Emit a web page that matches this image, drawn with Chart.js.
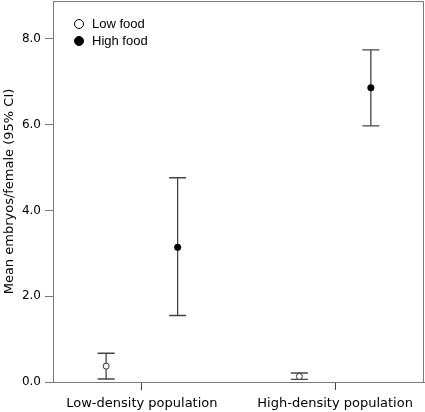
<!DOCTYPE html>
<html><head><meta charset="utf-8">
<script src="https://cdn.jsdelivr.net/npm/chart.js@4/dist/chart.umd.min.js"></script>
<style>
html,body{margin:0;padding:0;background:#fff;}
#wrap{position:relative;width:425px;height:412px;}
#legend{position:absolute;left:0;top:0;font-family:'Liberation Sans',Arial,sans-serif;font-size:13px;color:#000;}
.item{position:absolute;display:flex;align-items:center;height:16px;white-space:nowrap;}
.dot{width:10px;height:10px;border-radius:50%;box-sizing:border-box;border:1.4px solid #000;margin-right:8px;}
</style></head><body>
<div id="wrap"><canvas id="c" width="425" height="412"></canvas><div id="legend"></div></div>
<script>
// ---- data ----
const categories = ['Low-density population', 'High-density population'];
const seriesNames = ['Low food', 'High food'];
const lowFoodMean  = [0.37, 0.13];
const lowFoodLower = [0.07, 0.06];
const lowFoodUpper = [0.67, 0.21];
const highFoodMean  = [3.14, 6.86];
const highFoodLower = [1.55, 5.97];
const highFoodUpper = [4.76, 7.74];
const yTickValues = [0, 2, 4, 6, 8];
const yTickLabels = ['0.0', '2.0', '4.0', '6.0', '8.0'];
const yTitle = 'Mean embryos/female (95% CI)';

// ---- styling / layout ----
const OFFSET = 0.185;
const CAP = 8.5;
const AXIS = '#7a7a7a';

function build(mean, lo, hi, off) {
  return categories.map((c, i) => ({ x: i + off, y: mean[i], lo: lo[i], hi: hi[i] }));
}

const errorBars = {
  id: 'errorBars',
  beforeDatasetsDraw(chart) {
    const { ctx, chartArea, scales: { x, y } } = chart;
    ctx.save();
    // frame top/right
    ctx.strokeStyle = AXIS; ctx.lineWidth = 1;
    ctx.beginPath();
    ctx.moveTo(chartArea.left, chartArea.top + 0.5);
    ctx.lineTo(chartArea.right - 0.5, chartArea.top + 0.5);
    ctx.lineTo(chartArea.right - 0.5, chartArea.bottom);
    ctx.stroke();
    ctx.strokeStyle = '#444'; ctx.lineWidth = 1.3;
    chart.data.datasets.forEach(ds => {
      ds.data.forEach(pt => {
        const px = x.getPixelForValue(pt.x);
        const pl = y.getPixelForValue(pt.lo), ph = y.getPixelForValue(pt.hi);
        ctx.beginPath();
        ctx.moveTo(px, pl); ctx.lineTo(px, ph);
        ctx.moveTo(px - CAP, pl); ctx.lineTo(px + CAP, pl);
        ctx.moveTo(px - CAP, ph); ctx.lineTo(px + CAP, ph);
        ctx.stroke();
      });
    });
    ctx.restore();
  }
};

Chart.defaults.font.family = "'DejaVu Sans', sans-serif";
Chart.defaults.color = '#000';

const chart = new Chart(document.getElementById('c'), {
  type: 'scatter',
  data: {
    datasets: [
      { label: seriesNames[0], data: build(lowFoodMean, lowFoodLower, lowFoodUpper, -OFFSET),
        pointRadius: 3, pointBackgroundColor: '#fff', pointBorderColor: '#333', pointBorderWidth: 1 },
      { label: seriesNames[1], data: build(highFoodMean, highFoodLower, highFoodUpper, OFFSET),
        pointRadius: 3.5, pointBackgroundColor: '#000', pointBorderColor: '#000', pointBorderWidth: 0 }
    ]
  },
  options: {
    responsive: false,
    devicePixelRatio: 1,
    animation: false,
    layout: { autoPadding: false, padding: { top: 1, right: 1, left: 0, bottom: 0 } },
    plugins: { legend: { display: false }, tooltip: { enabled: false } },
    scales: {
      x: {
        type: 'linear', min: -0.46, max: 1.46,
        afterBuildTicks: s => { s.ticks = categories.map((c, i) => ({ value: i })); },
        afterFit: s => { s.height = 30; s.paddingLeft = 0; s.paddingRight = 0; },
        ticks: { callback: (v, i) => categories[i], font: { size: 13 }, padding: 6, maxRotation: 0, autoSkip: false, color: '#000' },
        grid: { drawOnChartArea: false, drawTicks: true, tickLength: 8, tickColor: '#444' },
        border: { color: AXIS, width: 1 }
      },
      y: {
        type: 'linear', min: 0, max: 8.88,
        afterBuildTicks: s => { s.ticks = yTickValues.map(v => ({ value: v })); },
        afterFit: s => { s.width = 53; s.paddingTop = 0; s.paddingBottom = 0; },
        ticks: { callback: (v, i) => yTickLabels[i], font: { size: 12 }, padding: 4, color: '#000' },
        grid: { drawOnChartArea: false, drawTicks: true, tickLength: 8, tickColor: AXIS },
        border: { color: AXIS, width: 1 },
        title: { display: true, text: yTitle, font: { size: 13 }, padding: { top: 2, bottom: 0 }, color: '#000' }
      }
    }
  },
  plugins: [errorBars]
});

// HTML legend built from the chart's datasets
const legend = document.getElementById('legend');
const legendTops = [15.5, 32.5];
chart.data.datasets.forEach((ds, i) => {
  const item = document.createElement('div');
  item.className = 'item';
  item.style.left = '74px';
  item.style.top = legendTops[i] + 'px';
  const dot = document.createElement('span');
  dot.className = 'dot';
  dot.style.background = i === 0 ? '#fff' : '#000';
  const txt = document.createElement('span');
  txt.textContent = ds.label;
  item.appendChild(dot); item.appendChild(txt);
  legend.appendChild(item);
});
</script>
</body></html>
